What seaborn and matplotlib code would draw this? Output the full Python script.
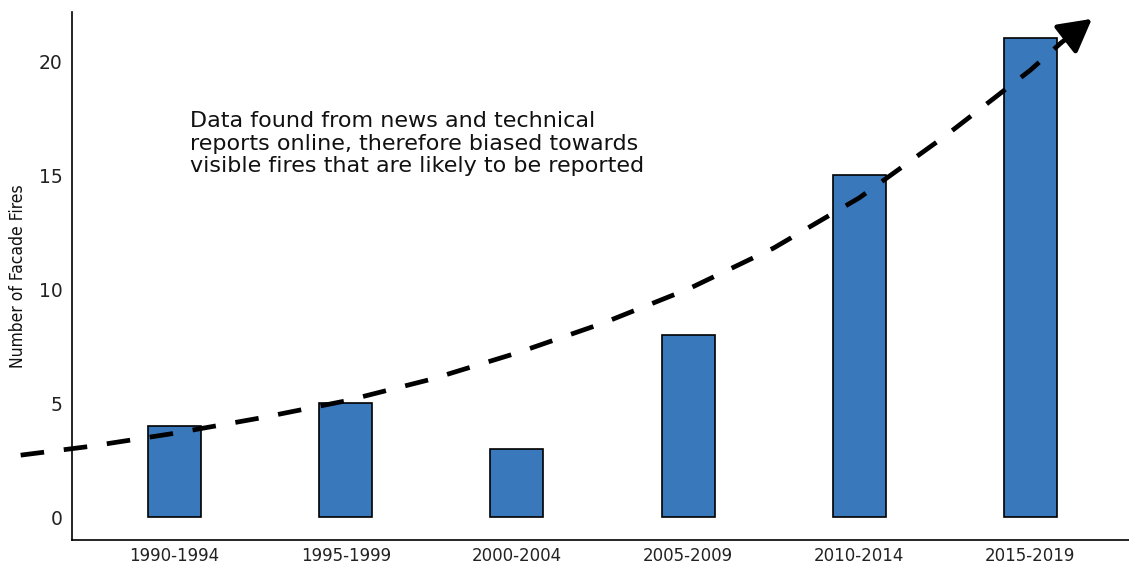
import matplotlib
matplotlib.use("Agg")
import matplotlib.pyplot as plt
import pandas as pd
import seaborn as sns

# bar data
periods = ["1990-1994", "1995-1999", "2000-2004", "2005-2009", "2010-2014", "2015-2019"]
fires = [4, 5, 3, 8, 15, 21]

# dashed trend curve (category position, value)
trend_pos = [-0.9, -0.5, 0.0, 0.5, 1.0, 1.5, 2.0, 2.5, 3.0, 3.5, 4.0, 4.5, 5.0, 5.18]
trend_val = [2.72, 3.1, 3.68, 4.35, 5.1, 6.05, 7.2, 8.5, 10.0, 11.8, 14.0, 16.7, 19.6, 20.8]
arrow_tip = (5.36, 21.85)

note = ("Data found from news and technical\n"
        "reports online, therefore biased towards\n"
        "visible fires that are likely to be reported")

sns.set_style("white")
plt.rcParams['font.family'] = ['DejaVu Sans']

df = pd.DataFrame({"period": periods, "fires": fires})

fig = plt.figure(figsize=(11.29, 5.63), dpi=100)
ax = fig.add_axes([72 / 1129, 1 - 540 / 563, (1133 - 72) / 1129, (540 - 12) / 563])

sns.barplot(data=df, x="period", y="fires", color="#3a78bc", saturation=1,
            width=0.31, edgecolor="black", linewidth=1.2, ax=ax)

# trend line with arrow head
ax.plot(trend_pos, trend_val, color="black", lw=3.4, linestyle=(0, (5.0, 4.2)),
        clip_on=False, zorder=5)
ax.annotate("", xy=arrow_tip, xytext=(trend_pos[-1], trend_val[-1]),
            arrowprops=dict(arrowstyle="-|>,head_length=1.0,head_width=0.55",
                            mutation_scale=20, color="black", lw=3.4,
                            shrinkA=0, shrinkB=0),
            annotation_clip=False, zorder=6)

ax.text(0.09, 17.8, note, fontsize=16, linespacing=1.15, va="top", ha="left",
        color="#111111")

ax.set_xlim(-0.6, 5.6)
ax.set_ylim(-1.0, 22.15)
ax.set_yticks([0, 5, 10, 15, 20])
ax.set_xlabel("")
ax.set_ylabel("Number of Facade Fires", fontsize=12.5, family="DejaVu Sans",
              fontstretch="condensed", color="#111111", labelpad=8)

ax.tick_params(axis="both", length=4, width=1, color="#333333", colors="#222222")
ax.tick_params(axis="x", labelsize=12, pad=1)
ax.tick_params(axis="y", labelsize=13.5, pad=3)

sns.despine(ax=ax)
for side in ["left", "bottom"]:
    ax.spines[side].set_color("black")
    ax.spines[side].set_linewidth(1.2)

fig.savefig("out.png", dpi=100)
